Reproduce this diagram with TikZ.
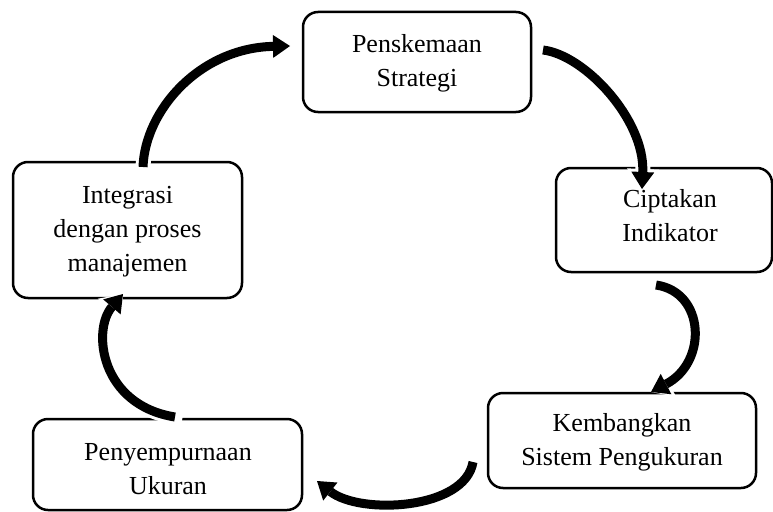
\documentclass[tikz,border=0pt]{standalone}
\usepackage{fontspec}
\setmainfont{Liberation Serif}
\usetikzlibrary{arrows.meta}
\begin{document}
\begin{tikzpicture}[x=1pt,y=-1pt,
  box/.style={draw=black, line width=2.5pt, rounded corners=15pt, fill=white, inner sep=0pt},
  txt/.style={align=center, font=\fontsize{26pt}{34pt}\selectfont, inner sep=0pt},
  halo/.style={draw=white, line width=15pt, line cap=rect, -{Triangle[length=20pt,width=32pt,line width=0pt]}},
  arr/.style={draw=black, line width=9pt, -{Triangle[length=17pt,width=23pt,line width=0pt]}}]
\useasboundingbox (0,0) rectangle (773,511);
% boxes
\node[box, minimum width=228pt, minimum height=100pt] (b1) at (417,62) {};
\node[box, minimum width=216pt, minimum height=104pt] (b2) at (664,220) {};
\node[box, minimum width=268pt, minimum height=95pt] (b3) at (622,440.5) {};
\node[box, minimum width=269pt, minimum height=91pt] (b4) at (167.5,464.5) {};
\node[box, minimum width=229pt, minimum height=136pt] (b5) at (127.5,230) {};
% texts
\node[txt] (t1) at (417,63) {Penskemaan\\Strategi};
\node[txt] (t2) at (670,216) {Ciptakan\\Indikator};
\node[txt] (t3) at (622,442) {Kembangkan\\Sistem Pengukuran};
\node[txt] (t4) at (168,469) {Penyempurnaan\\Ukuran};
\node[txt] (t5) at (127.5,232) {Integrasi\\dengan proses\\manajemen};
% arrow ends
\coordinate (a1s) at (143,167); \coordinate (a1e) at (290,46);
\coordinate (a2s) at (543,50);  \coordinate (a2e) at (642,189);
\coordinate (a3s) at (656,285); \coordinate (a3e) at (651,392);
\coordinate (a4s) at (473,462); \coordinate (a4e) at (317,481);
\coordinate (a5s) at (175,417); \coordinate (a5e) at (123,294);
% halos
\draw[halo] (a1s) .. controls (145,110) and (200,48) .. (a1e);
\draw[halo] (a2s) .. controls (585,55) and (645,120) .. (a2e);
\draw[halo] (a3s) .. controls (705,292) and (708,362) .. (a3e);
\draw[halo] (a4s) .. controls (465,510) and (360,515) .. (a4e);
\draw[halo] (a5s) .. controls (100,405) and (92,330) .. (a5e);
% arrows
\draw[arr] (a1s) .. controls (145,110) and (200,48) .. (a1e);
\draw[arr] (a2s) .. controls (585,55) and (645,120) .. (a2e);
\draw[arr] (a3s) .. controls (705,292) and (708,362) .. (a3e);
\draw[arr] (a4s) .. controls (465,510) and (360,515) .. (a4e);
\draw[arr] (a5s) .. controls (100,405) and (92,330) .. (a5e);
\end{tikzpicture}
\end{document}
